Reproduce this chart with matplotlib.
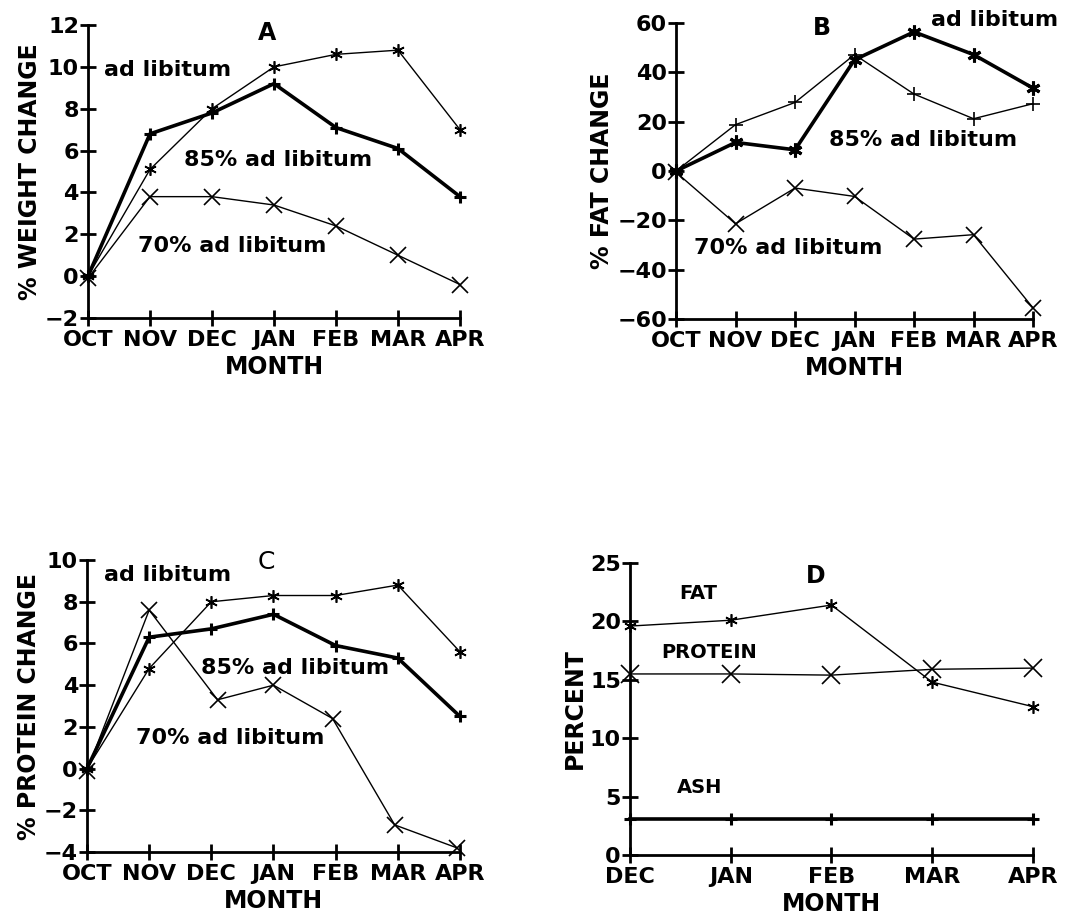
import matplotlib
matplotlib.use("Agg")
import matplotlib.pyplot as plt

plt.rcParams['font.family'] = 'DejaVu Sans'
plt.rcParams['font.weight'] = 'bold'
plt.rcParams['axes.labelweight'] = 'bold'
plt.rcParams['font.size'] = 15

# =========================================================
# Data
# =========================================================
months_ab = ["OCT", "NOV", "DEC", "JAN", "FEB", "MAR", "APR"]
months_d = ["DEC", "JAN", "FEB", "MAR", "APR"]

# A: % weight change
weight_adlib = [0, 5.1, 8.0, 10.0, 10.6, 10.8, 7.0]
weight_85 = [0, 6.8, 7.8, 9.2, 7.1, 6.1, 3.8]
weight_70 = [-0.1, 3.8, 3.8, 3.4, 2.4, 1.0, -0.4]

# B: % fat change
fat_thin = [0, 18.8, 27.8, 47.2, 31.2, 21.2, 27.3]
fat_thick = [0, 11.6, 8.6, 45.1, 56.4, 47.2, 33.6]
fat_70 = [-0.5, -21.4, -6.9, -10.3, -27.6, -25.8, -55.5]

# C: % protein change
prot_adlib = [0, 4.8, 8.0, 8.3, 8.3, 8.8, 5.6]
prot_85 = [0, 6.3, 6.7, 7.4, 5.9, 5.3, 2.5]
prot_70 = [-0.1, 7.6, 3.3, 4.0, 2.4, -2.7, -3.8]
prot_70_x = [0, 1.0, 2.1, 3.0, 3.95, 4.95, 5.95]

# D: percent composition
d_fat = [19.6, 20.1, 21.4, 14.8, 12.7]
d_protein = [15.5, 15.5, 15.4, 15.9, 16.0]
d_ash = [3.1, 3.1, 3.1, 3.1, 3.1]


# =========================================================
# Helpers
# =========================================================
STAR = (6, 2, 0)


def style_axes(ax, xticks, yticks):
    for side in ["top", "right"]:
        ax.spines[side].set_visible(False)
    for side in ["left", "bottom"]:
        ax.spines[side].set_linewidth(2.0)
    ax.set_xticks(range(len(xticks)))
    ax.set_xticklabels(xticks)
    ax.set_yticks(yticks)
    ax.tick_params(direction="inout", length=11, width=2.0, pad=1, labelsize=16)
    ax.tick_params(axis="x", pad=3)
    ax.set_xlim(0, len(xticks) - 1)
    ax.set_ylim(yticks[0], yticks[-1])
    ax.set_xlabel("MONTH", fontsize=17, labelpad=4)


def thin(ax, x, y, marker, ms):
    ax.plot(x, y, color="black", lw=1.0, marker=marker, ms=ms, mew=1.2,
            clip_on=False, zorder=3)


def thick(ax, x, y, marker, ms):
    ax.plot(x, y, color="black", lw=2.6, marker=marker, ms=ms, mew=2.2,
            clip_on=False, zorder=3)


fig = plt.figure(figsize=(10.78, 9.21), dpi=100)

xs = list(range(len(months_ab)))

# =========================================================
# A
# =========================================================
axA = fig.add_axes([0.0816, 0.6547, 0.3451, 0.3181])
thin(axA, xs, weight_adlib, STAR, 9)
thick(axA, xs, weight_85, "+", 9)
thin(axA, xs, weight_70, "x", 12)
style_axes(axA, months_ab, list(range(-2, 13, 2)))
axA.set_ylabel("% WEIGHT CHANGE", fontsize=17, labelpad=2)
axA.text(2.89, 11.6, "A", ha="center", va="center", fontsize=17)
axA.text(1.29, 9.85, "ad libitum", ha="center", va="center", fontsize=16)
axA.text(3.06, 5.55, "85% ad libitum", ha="center", va="center", fontsize=16)
axA.text(2.32, 1.44, "70% ad libitum", ha="center", va="center", fontsize=16)

# =========================================================
# B
# =========================================================
axB = fig.add_axes([0.6271, 0.6536, 0.3312, 0.3214])
thin(axB, xs, fat_thin, "+", 10)
thick(axB, xs, fat_thick, STAR, 10)
thin(axB, xs, fat_70, "x", 12)
style_axes(axB, months_ab, list(range(-60, 61, 20)))
axB.set_ylabel("% FAT CHANGE", fontsize=17, labelpad=2)
axB.text(2.45, 58.0, "B", ha="center", va="center", fontsize=17)
axB.text(5.36, 61.2, "ad libitum", ha="center", va="center", fontsize=16)
axB.text(4.15, 12.6, "85% ad libitum", ha="center", va="center", fontsize=16)
axB.text(1.88, -31.2, "70% ad libitum", ha="center", va="center", fontsize=16)

# =========================================================
# C
# =========================================================
axC = fig.add_axes([0.0807, 0.0749, 0.346, 0.317])
thin(axC, xs, prot_adlib, STAR, 9)
thick(axC, xs, prot_85, "+", 9)
thin(axC, prot_70_x, prot_70, "x", 12)
style_axes(axC, months_ab, list(range(-4, 11, 2)))
axC.set_ylabel("% PROTEIN CHANGE", fontsize=17, labelpad=2)
axC.text(2.89, 9.9, "C", ha="center", va="center", fontsize=18, fontweight="normal")
axC.text(1.30, 9.28, "ad libitum", ha="center", va="center", fontsize=16)
axC.text(3.34, 4.82, "85% ad libitum", ha="center", va="center", fontsize=16)
axC.text(2.30, 1.46, "70% ad libitum", ha="center", va="center", fontsize=16)

# =========================================================
# D
# =========================================================
xd = list(range(len(months_d)))
axD = fig.add_axes([0.5844, 0.0717, 0.3738, 0.317])
thin(axD, xd, d_fat, STAR, 9)
thin(axD, xd, d_protein, "x", 13)
thick(axD, xd, d_ash, "+", 9)
style_axes(axD, months_d, list(range(0, 26, 5)))
axD.set_ylabel("PERCENT", fontsize=17, labelpad=2)
axD.text(1.84, 23.9, "D", ha="center", va="center", fontsize=17)
axD.text(0.675, 22.4, "FAT", ha="center", va="center", fontsize=14)
axD.text(0.79, 17.3, "PROTEIN", ha="center", va="center", fontsize=14)
axD.text(0.69, 5.74, "ASH", ha="center", va="center", fontsize=14)

fig.savefig("out.png", dpi=100)
